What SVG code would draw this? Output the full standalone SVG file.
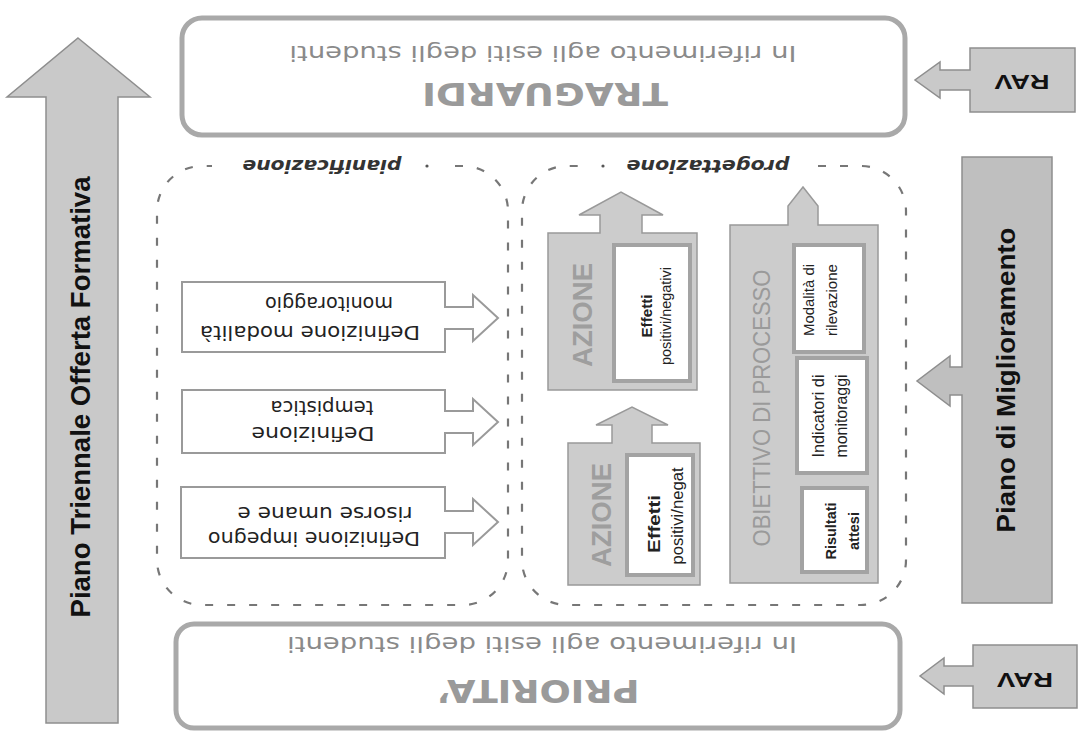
<svg xmlns="http://www.w3.org/2000/svg" width="1081" height="741" viewBox="0 0 1081 741">
<style>
.box{fill:#fff;stroke:#a9a9a9;stroke-width:5}
.gray{fill:#c9c9c9;stroke:#8e8e8e;stroke-width:1.5}
.lgray{fill:#cccccc;stroke:#999;stroke-width:1.5}
.wbox{fill:#fff;stroke:#a3a3a3;stroke-width:4}
.defbox{fill:#fff;stroke:#9a9a9a;stroke-width:2}
.dash{fill:none;stroke:#777;stroke-width:2.2;stroke-dasharray:8 14}
.big{font-family:"Liberation Sans",Arial,sans-serif;font-weight:bold;fill:#111;text-anchor:middle}
.title{font-family:"DejaVu Sans","Liberation Sans",sans-serif;font-weight:bold;fill:#9a9a9a;text-anchor:middle}
.ref{font-family:"DejaVu Sans","Liberation Sans",sans-serif;fill:#8a8a8a;text-anchor:middle}
.def{font-family:"DejaVu Sans","Liberation Sans",sans-serif;fill:#222;text-anchor:middle}
.lab{font-family:"DejaVu Sans","Liberation Sans",sans-serif;font-weight:bold;font-style:italic;fill:#333;text-anchor:middle}
.az{font-family:"Liberation Sans",Arial,sans-serif;font-weight:bold;fill:#9e9e9e;text-anchor:middle}
.ob{font-family:"Liberation Sans",Arial,sans-serif;fill:#9a9a9a;text-anchor:middle}
.sm{font-family:"Liberation Sans",Arial,sans-serif;fill:#222;text-anchor:middle}
.smb{font-family:"Liberation Sans",Arial,sans-serif;font-weight:bold;fill:#222;text-anchor:middle}
</style>

<g id="ptof">
<path class="gray" d="M78,38 L150,97 H118 V723 H46 V97 H7 Z"/>
<text class="big" font-size="27" transform="translate(80,397) rotate(-90)" y="9.7" textLength="441" lengthAdjust="spacingAndGlyphs">Piano Triennale Offerta Formativa</text>
</g>

<g id="traguardi">
<rect class="box" x="182" y="18" width="723" height="117" rx="20"/>
<text class="title" font-size="32" transform="translate(545,94) rotate(180)" y="11.5" textLength="246" lengthAdjust="spacingAndGlyphs">TRAGUARDI</text>
<text class="ref" font-size="22" transform="translate(543,52) rotate(180)" y="6" textLength="507" lengthAdjust="spacingAndGlyphs">In riferimento agli esiti degli studenti</text>
</g>

<g id="priorita">
<rect class="box" x="176" y="624" width="724" height="104" rx="18"/>
<text class="title" font-size="32" transform="translate(538,691) rotate(180)" y="11.5" textLength="203" lengthAdjust="spacingAndGlyphs">PRIORITA’</text>
<text class="ref" font-size="22" transform="translate(542,643) rotate(180)" y="6" textLength="510" lengthAdjust="spacingAndGlyphs">In riferimento agli esiti degli studenti</text>
</g>

<g id="rav-top">
<path class="gray" d="M970,48 H1075 V112 H970 V90 H940 V98 L915,80 L940,62 V70 H970 Z"/>
<text class="big" font-size="20" transform="translate(1022,82) rotate(180)" y="7.2" textLength="55" lengthAdjust="spacingAndGlyphs">RAV</text>
</g>

<g id="rav-bottom">
<path class="gray" d="M973,645 H1077 V708 H973 V686 H944 V694 L920,676 L944,658 V666 H973 Z"/>
<text class="big" font-size="20" transform="translate(1025,680) rotate(180)" y="7.2" textLength="56" lengthAdjust="spacingAndGlyphs">RAV</text>
</g>

<g id="pdm">
<path class="gray" style="fill:#bfbfbf" d="M962,157 H1052 V603 H962 V395 H950 V406 L917,381 L950,356 V367 H962 Z"/>
<text class="big" font-size="26" transform="translate(1006,380) rotate(-90)" y="9.4" textLength="305" lengthAdjust="spacingAndGlyphs">Piano di Miglioramento</text>
</g>

<g id="pianificazione">
<path class="dash" d="M455,166 H463 A45,45 0 0 1 508,211 V560 A45,45 0 0 1 463,605 H202 A45,45 0 0 1 157,560 V211 A45,45 0 0 1 202,166 H212"/>
<circle cx="427" cy="166" r="1.6" fill="#555"/>
<text class="lab" font-size="18" transform="translate(322,165) rotate(180)" y="5" textLength="159" lengthAdjust="spacingAndGlyphs">pianificazione</text>
</g>

<g id="progettazione">
<path class="dash" d="M818,166 H861 A45,45 0 0 1 906,211 V560 A45,45 0 0 1 861,605 H567 A45,45 0 0 1 522,560 V211 A45,45 0 0 1 567,166 H582"/>
<circle cx="603" cy="166" r="1.6" fill="#555"/>
<text class="lab" font-size="18" transform="translate(708,165) rotate(180)" y="5" textLength="163" lengthAdjust="spacingAndGlyphs">progettazione</text>
</g>

<g id="def-monitoraggio">
<path class="defbox" d="M182,282 H445 V307 H473 V295 L498,318 L473,341 V329 H445 V352 H182 Z"/>
<text class="def" font-size="20" transform="translate(310,332) rotate(180)" y="6" textLength="220" lengthAdjust="spacingAndGlyphs">Definizione modalità</text>
<text class="def" font-size="20" transform="translate(329,303) rotate(180)" y="6" textLength="128" lengthAdjust="spacingAndGlyphs">monitoraggio</text>
</g>

<g id="def-tempistica">
<path class="defbox" d="M182,390 H445 V411 H473 V399 L498,422 L473,445 V433 H445 V453 H182 Z"/>
<text class="def" font-size="20" transform="translate(313,433) rotate(180)" y="6" textLength="123" lengthAdjust="spacingAndGlyphs">Definizione</text>
<text class="def" font-size="20" transform="translate(322,407) rotate(180)" y="6" textLength="103" lengthAdjust="spacingAndGlyphs">tempistica</text>
</g>

<g id="def-risorse">
<path class="defbox" d="M181,487 H445 V511 H473 V499 L498,522 L473,545 V533 H445 V558 H181 Z"/>
<text class="def" font-size="20" transform="translate(314,538) rotate(180)" y="6" textLength="212" lengthAdjust="spacingAndGlyphs">Definizione impegno</text>
<text class="def" font-size="20" transform="translate(325,513) rotate(180)" y="6" textLength="175" lengthAdjust="spacingAndGlyphs">risorse umane e</text>
</g>

<g id="azione-1">
<path class="lgray" d="M548,233 H600 V215 H579 L621,192 L663,215 H642 V233 H697 V390 H548 Z"/>
<rect class="wbox" x="614" y="245" width="76" height="136"/>
<text class="az" font-size="28" transform="translate(582,315) rotate(-90)" y="10" textLength="104" lengthAdjust="spacingAndGlyphs">AZIONE</text>
<text class="smb" font-size="15" transform="translate(647,316) rotate(-90)" y="5" textLength="43" lengthAdjust="spacingAndGlyphs">Effetti</text>
<text class="sm" font-size="14" transform="translate(667,316) rotate(-90)" y="4" textLength="98" lengthAdjust="spacingAndGlyphs">positivi/negativi</text>
</g>

<g id="azione-2">
<path class="lgray" d="M568,443 H612 V425 H596 L632,407 L668,425 H652 V443 H700 V585 H568 Z"/>
<rect class="wbox" x="627" y="455" width="66" height="120"/>
<text class="az" font-size="28" transform="translate(601,515) rotate(-90)" y="10" textLength="104" lengthAdjust="spacingAndGlyphs">AZIONE</text>
<text class="smb" font-size="16" transform="translate(655,524) rotate(-90)" y="5" textLength="58" lengthAdjust="spacingAndGlyphs">Effetti</text>
<text class="sm" font-size="16" transform="translate(678,516) rotate(-90)" y="4.5" textLength="97" lengthAdjust="spacingAndGlyphs">positivi/negat</text>
</g>

<g id="obiettivo">
<path class="lgray" d="M730,225 H788 V206 L803,187 L818,206 V225 H878 V583 H730 Z"/>
<rect class="wbox" x="794" y="245" width="70" height="107"/>
<rect class="wbox" x="797" y="358" width="70" height="115"/>
<rect class="wbox" x="802" y="488" width="65" height="84"/>
<text class="ob" font-size="24" transform="translate(761,408) rotate(-90)" y="8.6" textLength="277" lengthAdjust="spacingAndGlyphs">OBIETTIVO DI PROCESSO</text>
<text class="sm" font-size="15" transform="translate(810,300) rotate(-90)" y="4" textLength="72" lengthAdjust="spacingAndGlyphs">Modalità di</text>
<text class="sm" font-size="15" transform="translate(833,300) rotate(-90)" y="4" textLength="72" lengthAdjust="spacingAndGlyphs">rilevazione</text>
<text class="sm" font-size="16" transform="translate(820,416) rotate(-90)" y="4.3" textLength="83" lengthAdjust="spacingAndGlyphs">Indicatori di</text>
<text class="sm" font-size="16" transform="translate(843,416) rotate(-90)" y="4.3" textLength="83" lengthAdjust="spacingAndGlyphs">monitoraggi</text>
<text class="smb" font-size="15" transform="translate(832,531) rotate(-90)" y="4" textLength="57" lengthAdjust="spacingAndGlyphs">Risultati</text>
<text class="smb" font-size="15" transform="translate(855,531) rotate(-90)" y="4" textLength="38" lengthAdjust="spacingAndGlyphs">attesi</text>
</g>
</svg>
